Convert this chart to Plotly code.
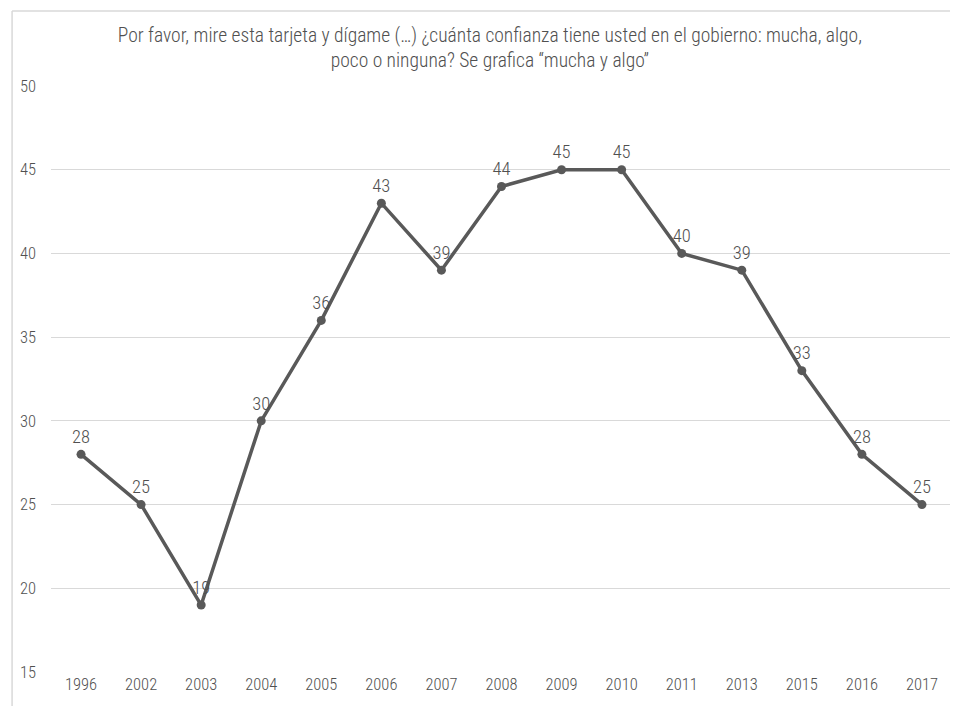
import plotly.graph_objects as go

years = ["1996", "2002", "2003", "2004", "2005", "2006", "2007", "2008",
         "2009", "2010", "2011", "2013", "2015", "2016", "2017"]
values = [28, 25, 19, 30, 36, 43, 39, 44, 45, 45, 40, 39, 33, 28, 25]
title_text = ("Por favor, mire esta tarjeta y dígame (…) ¿cuánta confianza tiene usted en el gobierno: mucha, algo,"
              "<br>poco o ninguna? Se grafica “mucha y algo”")

FONT = "Liberation Sans Narrow, Arial Narrow, Roboto Condensed, Roboto, sans-serif"
GRAY = "#595959"
TXT = "#505050"

fig = go.Figure()
fig.add_trace(go.Scatter(
    x=years, y=values, mode="lines+markers+text",
    text=[str(v) for v in values], textposition="top center",
    textfont=dict(family=FONT, size=18.5, color=TXT, weight=300),
    line=dict(color=GRAY, width=3.5),
    marker=dict(color=GRAY, size=9),
    cliponaxis=False, showlegend=False,
))

fig.update_layout(
    width=958, height=706,
    margin=dict(l=41, r=14, t=78, b=42),
    paper_bgcolor="white", plot_bgcolor="white",
    font=dict(family=FONT, color=TXT, size=16, weight=300),
    title=dict(text=title_text, x=0.503, xanchor="center", y=0.952, yanchor="middle",
               font=dict(family=FONT, size=19.5, color=TXT, weight=300)),
    xaxis=dict(type="category", range=[-0.5, 14.5], showgrid=False, showline=False, ticks="",
               tickfont=dict(family=FONT, size=16.5, color=TXT, weight=300)),
    yaxis=dict(range=[15, 50], dtick=5, showgrid=True, gridcolor="#d9d9d9", gridwidth=1,
               zeroline=False, showline=False, ticks="", ticklabelstandoff=14,
               tickfont=dict(family=FONT, size=16.5, color=TXT, weight=300)),
    shapes=[
        dict(type="line", xref="paper", yref="paper", x0=-0.0432, x1=1.03, y0=1.128, y1=1.128,
             line=dict(color="#d9d9d9", width=1.5)),
        dict(type="line", xref="paper", yref="paper", x0=-0.0432, x1=-0.0432, y0=-0.1, y1=1.128,
             line=dict(color="#d9d9d9", width=1.5)),
    ],
)

fig.write_html("out.html")
